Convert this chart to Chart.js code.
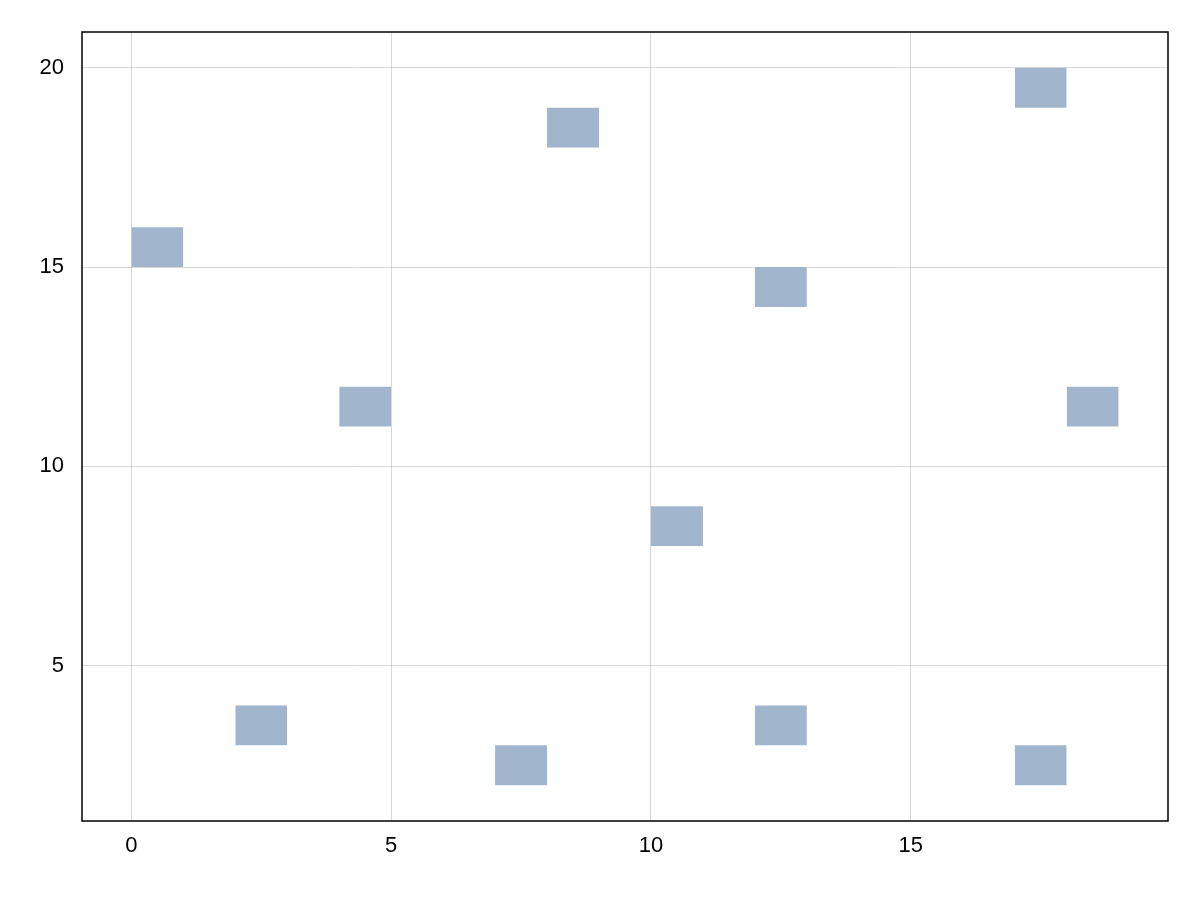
<!DOCTYPE html>
<html><head><meta charset="utf-8">
<script src="https://cdn.jsdelivr.net/npm/chart.js@4"></script>
<style>html,body{margin:0;padding:0;background:#fff}#w{width:1200px;height:900px}</style>
</head><body><div id="w"><canvas id="c"></canvas></div>
<script>
const xStarts=[0,2,4,7,8,10,12,12,17,17,18];
const yStarts=[15,3,11,2,18,8,14,3,19,2,11];
const xTicks=[0,5,10,15];
const yTicks=[5,10,15,20];
const cell=1;
const color='#a1b6cd';
const datasets=[];
xStarts.forEach((x0,i)=>{
  const y0=yStarts[i];
  datasets.push({data:[{x:x0,y:y0},{x:x0+cell,y:y0}],borderWidth:0,pointRadius:0,fill:false,backgroundColor:color,borderColor:'rgba(0,0,0,0)'});
  datasets.push({data:[{x:x0,y:y0+cell},{x:x0+cell,y:y0+cell}],borderWidth:0,pointRadius:0,fill:'-1',backgroundColor:color,borderColor:'rgba(0,0,0,0)'});
});
const frame={id:'frame',afterDraw(ch){const a=ch.chartArea,c=ch.ctx;c.save();c.strokeStyle='#000';c.lineWidth=1.5;c.strokeRect(a.left,a.top,a.right-a.left,a.bottom-a.top);c.restore();}};
new Chart(document.getElementById('c'),{type:'line',data:{datasets},plugins:[frame],
options:{responsive:true,maintainAspectRatio:false,animation:false,
layout:{padding:{top:32,right:32,left:0,bottom:0}},
plugins:{legend:{display:false},tooltip:{enabled:false}},
scales:{
x:{type:'linear',min:-0.95,max:19.95,
 afterBuildTicks:s=>{s.ticks=xTicks.map(v=>({value:v}));},
 afterFit:s=>{s.height=79;},
 grid:{color:'rgba(0,0,0,0.15)',drawTicks:false},border:{display:false},
 ticks:{color:'#000',font:{family:'Liberation Sans, Arial',size:22},padding:12}},
y:{type:'linear',min:1.1,max:20.9,
 afterBuildTicks:s=>{s.ticks=yTicks.map(v=>({value:v}));},
 afterFit:s=>{s.width=82;},
 grid:{color:'rgba(0,0,0,0.15)',drawTicks:false},border:{display:false},
 ticks:{color:'#000',font:{family:'Liberation Sans, Arial',size:22},padding:18}}
}}});
</script></body></html>
